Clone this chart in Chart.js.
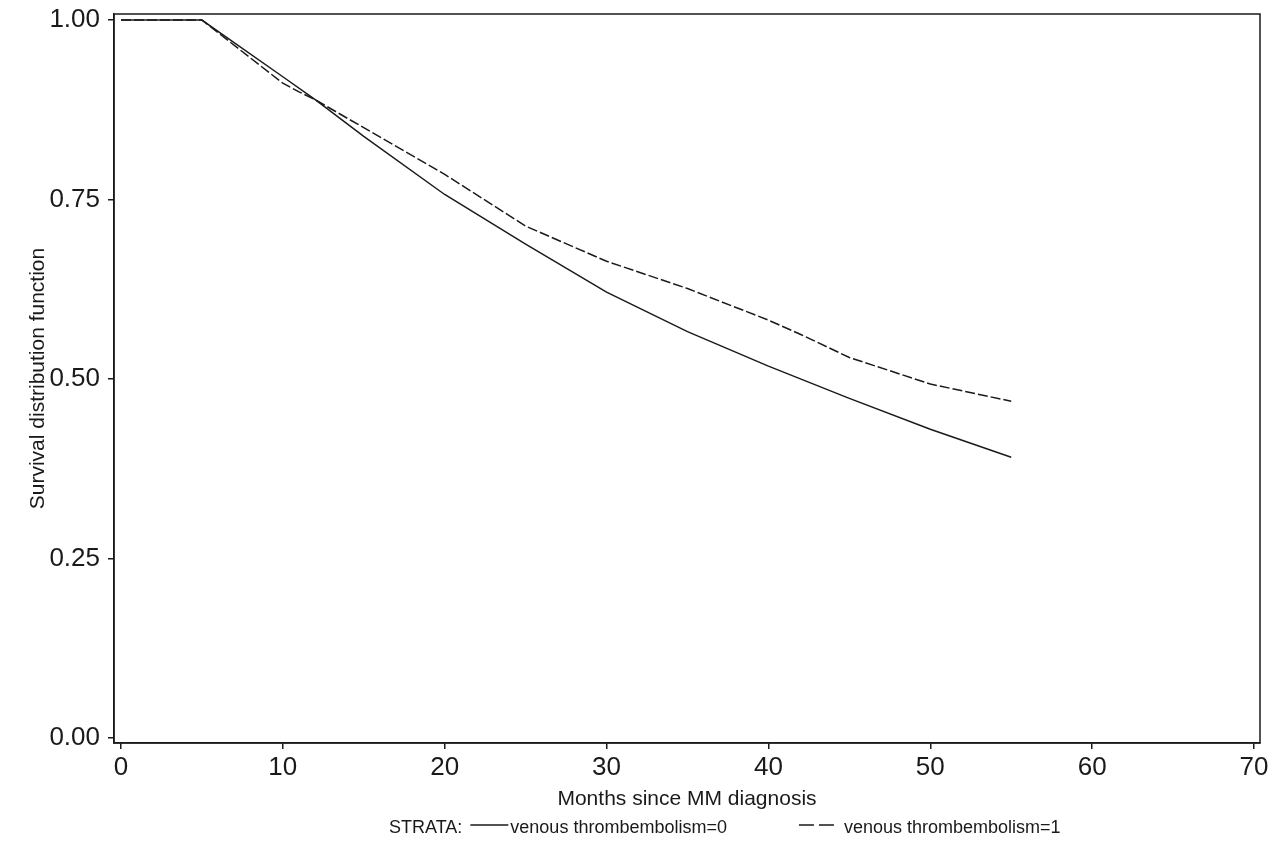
<!DOCTYPE html>
<html>
<head>
<meta charset="utf-8">
<script src="https://cdn.jsdelivr.net/npm/chart.js@4"></script>
<style>
  html, body { margin: 0; padding: 0; background: #fff; }
  #wrap { width: 1280px; height: 849px; }
</style>
</head>
<body>
<div id="wrap"><canvas id="survChart"></canvas></div>
<script>
// months and survival estimates
const monthsVte0 = [0, 5, 10, 12, 15, 20, 25, 30, 35, 40, 45, 50, 55];
const survVte0   = [1, 1, 0.921, 0.889, 0.838, 0.757, 0.688, 0.621, 0.566, 0.518, 0.473, 0.430, 0.391];

const monthsVte1 = [0, 5, 10, 11, 12, 15, 20, 25, 30, 35, 40, 42, 45, 50, 55];
const survVte1   = [1, 1, 0.912, 0.900, 0.889, 0.850, 0.785, 0.713, 0.664, 0.626, 0.582, 0.562, 0.530, 0.493, 0.469];

const xTicks = [0, 10, 20, 30, 40, 50, 60, 70];
const yTicks = [0, 0.25, 0.5, 0.75, 1.0];

const seriesNames = ['venous thrombembolism=0', 'venous thrombembolism=1'];

const FONT = "'Liberation Sans', Arial, sans-serif";
const INK = '#1a1a1a';

const toPoints = (xs, ys) => xs.map((x, i) => ({ x: x, y: ys[i] }));

// draws the closed frame round the plot
const framePlugin = {
  id: 'frame',
  afterDraw(chart) {
    const { ctx, chartArea: a } = chart;
    ctx.save();
    ctx.strokeStyle = INK;
    ctx.lineWidth = 1.5;
    ctx.strokeRect(a.left, a.top, a.right - a.left, a.bottom - a.top);
    ctx.restore();
  }
};

// SAS style strata legend under the axis title
const strataLegend = {
  id: 'strataLegend',
  afterDraw(chart) {
    const { ctx, chartArea: a } = chart;
    const y = 828;
    let x = a.left + 275;
    ctx.save();
    ctx.font = '18px ' + FONT;
    ctx.fillStyle = INK;
    ctx.strokeStyle = INK;
    ctx.lineWidth = 1.5;
    ctx.textBaseline = 'middle';
    ctx.fillText('STRATA:', x, y);
    x += ctx.measureText('STRATA:').width + 8;
    ctx.beginPath(); ctx.moveTo(x, y - 3); ctx.lineTo(x + 38, y - 3); ctx.stroke();
    x += 40;
    ctx.fillText(seriesNames[0], x, y);
    x += ctx.measureText(seriesNames[0]).width + 72;
    ctx.setLineDash([15, 5]);
    ctx.beginPath(); ctx.moveTo(x, y - 3); ctx.lineTo(x + 35, y - 3); ctx.stroke();
    ctx.setLineDash([]);
    x += 45;
    ctx.fillText(seriesNames[1], x, y);
    ctx.restore();
  }
};

const ctx = document.getElementById('survChart').getContext('2d');
new Chart(ctx, {
  type: 'line',
  data: {
    datasets: [
      {
        label: seriesNames[0],
        data: toPoints(monthsVte0, survVte0),
        borderColor: INK,
        borderWidth: 1.5,
        pointRadius: 0,
        fill: false,
        tension: 0
      },
      {
        label: seriesNames[1],
        data: toPoints(monthsVte1, survVte1),
        borderColor: INK,
        borderWidth: 1.5,
        borderDash: [10, 3],
        pointRadius: 0,
        fill: false,
        tension: 0
      }
    ]
  },
  options: {
    responsive: true,
    maintainAspectRatio: false,
    animation: false,
    layout: { padding: { top: 14, right: 20, bottom: 0, left: 0 } },
    plugins: {
      legend: { display: false },
      tooltip: { enabled: false }
    },
    scales: {
      x: {
        type: 'linear',
        min: -0.43,
        max: 70.37,
        afterBuildTicks: scale => { scale.ticks = xTicks.map(v => ({ value: v })); },
        afterFit: scale => {
          scale.height = 106;
          scale.paddingLeft = 0;
          scale.paddingRight = 0;
        },
        grid: { drawOnChartArea: false, drawTicks: true, tickLength: 6, color: INK, lineWidth: 1.5 },
        border: { display: true, color: INK, width: 1.5 },
        ticks: { color: INK, font: { family: FONT, size: 26 }, padding: 3, maxRotation: 0 },
        title: {
          display: true,
          text: 'Months since MM diagnosis',
          color: INK,
          font: { family: FONT, size: 21 },
          padding: { top: 0, bottom: 37 }
        }
      },
      y: {
        type: 'linear',
        min: -0.007,
        max: 1.0084,
        afterBuildTicks: scale => { scale.ticks = yTicks.map(v => ({ value: v })); },
        afterFit: scale => {
          scale.width = 114;
          scale.paddingTop = 0;
          scale.paddingBottom = 0;
        },
        grid: { drawOnChartArea: false, drawTicks: true, tickLength: 6, color: INK, lineWidth: 1.5 },
        border: { display: true, color: INK, width: 1.5 },
        ticks: {
          color: INK,
          font: { family: FONT, size: 26 },
          padding: 8,
          callback: v => v.toFixed(2)
        },
        title: {
          display: true,
          text: 'Survival distribution function',
          color: INK,
          font: { family: FONT, size: 21 },
          padding: { top: 26, bottom: 0 }
        }
      }
    }
  },
  plugins: [framePlugin, strataLegend]
});
</script>
</body>
</html>
